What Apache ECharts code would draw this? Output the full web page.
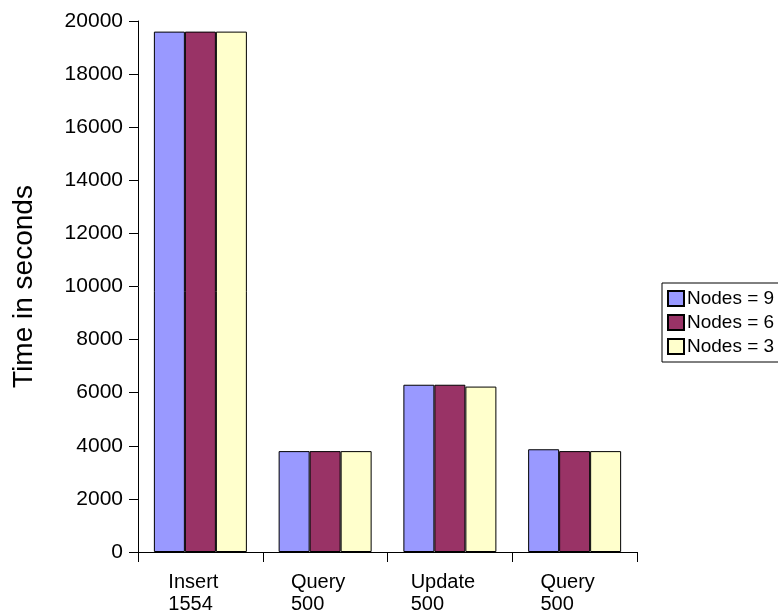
<!DOCTYPE html>
<html>
<head>
<meta charset="utf-8">
<script src="https://cdn.jsdelivr.net/npm/echarts@6/dist/echarts.min.js"></script>
<style>
  html, body { margin: 0; padding: 0; background: #ffffff; }
  #chart { width: 778px; height: 616px; }
</style>
</head>
<body>
<div id="chart"></div>
<script>
// Operation benchmark: elapsed time per cluster size
const categories = ['Insert\n1554', 'Query\n500', 'Update\n500', 'Query\n500'];
const seriesNames = ['Nodes = 9', 'Nodes = 6', 'Nodes = 3'];
const nodes9 = [19600, 3800, 6300, 3870];
const nodes6 = [19600, 3800, 6300, 3800];
const nodes3 = [19600, 3800, 6230, 3800];
const yTicks = { min: 0, max: 20000, interval: 2000 };

const colors = ['#9999ff', '#993366', '#ffffcc'];
const seriesData = [nodes9, nodes6, nodes3];
const font = 'Arial, "Liberation Sans", sans-serif';

const chart = echarts.init(document.getElementById('chart'), null, { renderer: 'canvas' });

chart.setOption({
  animation: false,
  backgroundColor: '#ffffff',
  grid: { left: 138, right: 141, top: 21, bottom: 64, containLabel: false },
  legend: {
    orient: 'vertical',
    left: 662,
    top: 283,
    padding: [6, 30, 6, 5],
    backgroundColor: '#ffffff',
    borderColor: '#000000',
    borderWidth: 1,
    borderRadius: 0,
    itemWidth: 16,
    itemHeight: 15,
    itemGap: 5,
    icon: 'rect',
    textStyle: { fontFamily: font, fontSize: 19, color: '#000000', padding: [0, 0, 0, -2] },
    data: seriesNames
  },
  xAxis: {
    type: 'category',
    data: categories,
    boundaryGap: true,
    axisLine: { lineStyle: { color: '#000000', width: 1 } },
    axisTick: { show: true, length: 10, lineStyle: { color: '#000000' } },
    axisLabel: {
      margin: 19,
      color: '#000000',
      fontFamily: font,
      fontSize: 20,
      lineHeight: 22,
      padding: [0, 14, 0, 0],
      formatter: function (v) {
        return v.split('\n').map(function (s) { return '{a|' + s + '}'; }).join('\n');
      },
      rich: { a: { align: 'left', fontFamily: font, fontSize: 20, lineHeight: 22, color: '#000000' } }
    },
    splitLine: { show: false }
  },
  yAxis: {
    type: 'value',
    min: yTicks.min,
    max: yTicks.max,
    interval: yTicks.interval,
    name: 'Time in seconds',
    nameLocation: 'middle',
    nameGap: 100,
    nameTextStyle: { fontFamily: font, fontSize: 28, color: '#000000' },
    axisLine: { show: true, lineStyle: { color: '#000000', width: 1 } },
    axisTick: { show: true, length: 9, lineStyle: { color: '#000000' } },
    axisLabel: {
      margin: 15,
      color: '#000000',
      fontFamily: font,
      fontSize: 21,
      formatter: function (v) { return String(v); }
    },
    splitLine: { show: false }
  },
  series: seriesNames.map(function (name, i) {
    return {
      name: name,
      type: 'bar',
      data: seriesData[i],
      barWidth: 31,
      barGap: '0%',
      itemStyle: { color: colors[i], borderColor: '#000000', borderWidth: 1 }
    };
  })
});
</script>
</body>
</html>
